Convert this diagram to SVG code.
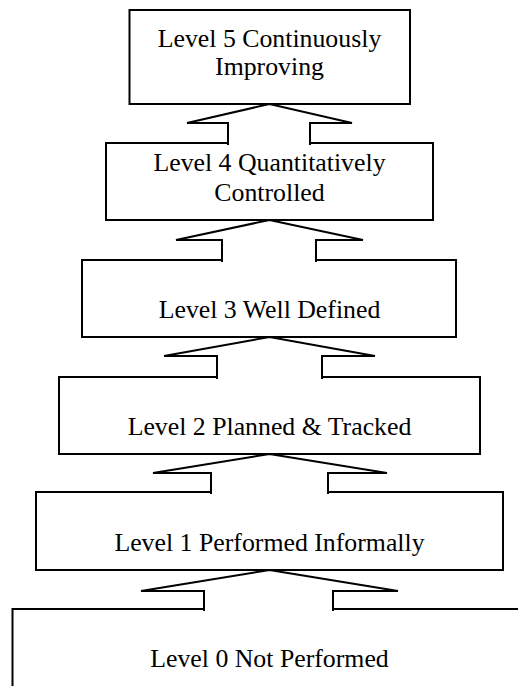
<svg xmlns="http://www.w3.org/2000/svg" width="518" height="686" viewBox="0 0 518 686">
<style>
.box{fill:#fff;stroke:#000;stroke-width:2}
.arr{fill:#fff;stroke:#000;stroke-width:2;stroke-linejoin:miter}
.lbl{font-family:"Liberation Serif","Times New Roman",serif;font-size:25.8px;fill:#000;text-anchor:middle}
</style>
<rect width="518" height="686" fill="#fff"/>
<g id="level5">
<rect class="box" x="129.5" y="10" width="280.5" height="94"/>
<text class="lbl" x="269.5" y="46.7">Level 5 Continuously</text>
<text class="lbl" x="269.5" y="75">Improving</text>
</g>
<g id="level4">
<rect class="box" x="106" y="143" width="327" height="77"/>
<text class="lbl" x="269.5" y="171">Level 4 Quantitatively</text>
<text class="lbl" x="269.5" y="200.5">Controlled</text>
</g>
<g id="level3">
<rect class="box" x="82" y="260" width="374" height="77"/>
<text class="lbl" x="269.5" y="317.7">Level 3 Well Defined</text>
</g>
<g id="level2">
<rect class="box" x="59" y="377" width="421" height="77"/>
<text class="lbl" x="269.5" y="435">Level 2 Planned &amp; Tracked</text>
</g>
<g id="level1">
<rect class="box" x="36" y="492" width="467" height="78"/>
<text class="lbl" x="269.5" y="551">Level 1 Performed Informally</text>
</g>
<g id="level0">
<rect class="box" x="12.5" y="609" width="514.5" height="100"/>
<text class="lbl" x="269.5" y="667">Level 0 Not Performed</text>
</g>
<g id="connectors">
<path class="arr" d="M228 145 L228 123 L187 123 L269.5 104 L352 123 L310 123 L310 145"/>
<path class="arr" d="M222 262 L222 240 L176 240 L269.5 220 L363 240 L316 240 L316 262"/>
<path class="arr" d="M217 379 L217 356 L164 356 L269.5 337 L375 356 L322 356 L322 379"/>
<path class="arr" d="M211 494 L211 473 L153 473 L269.5 454 L387 473 L328 473 L328 494"/>
<path class="arr" d="M204 611 L204 591 L141 591 L269.5 570 L398 591 L333 591 L333 611"/>
</g>
</svg>
